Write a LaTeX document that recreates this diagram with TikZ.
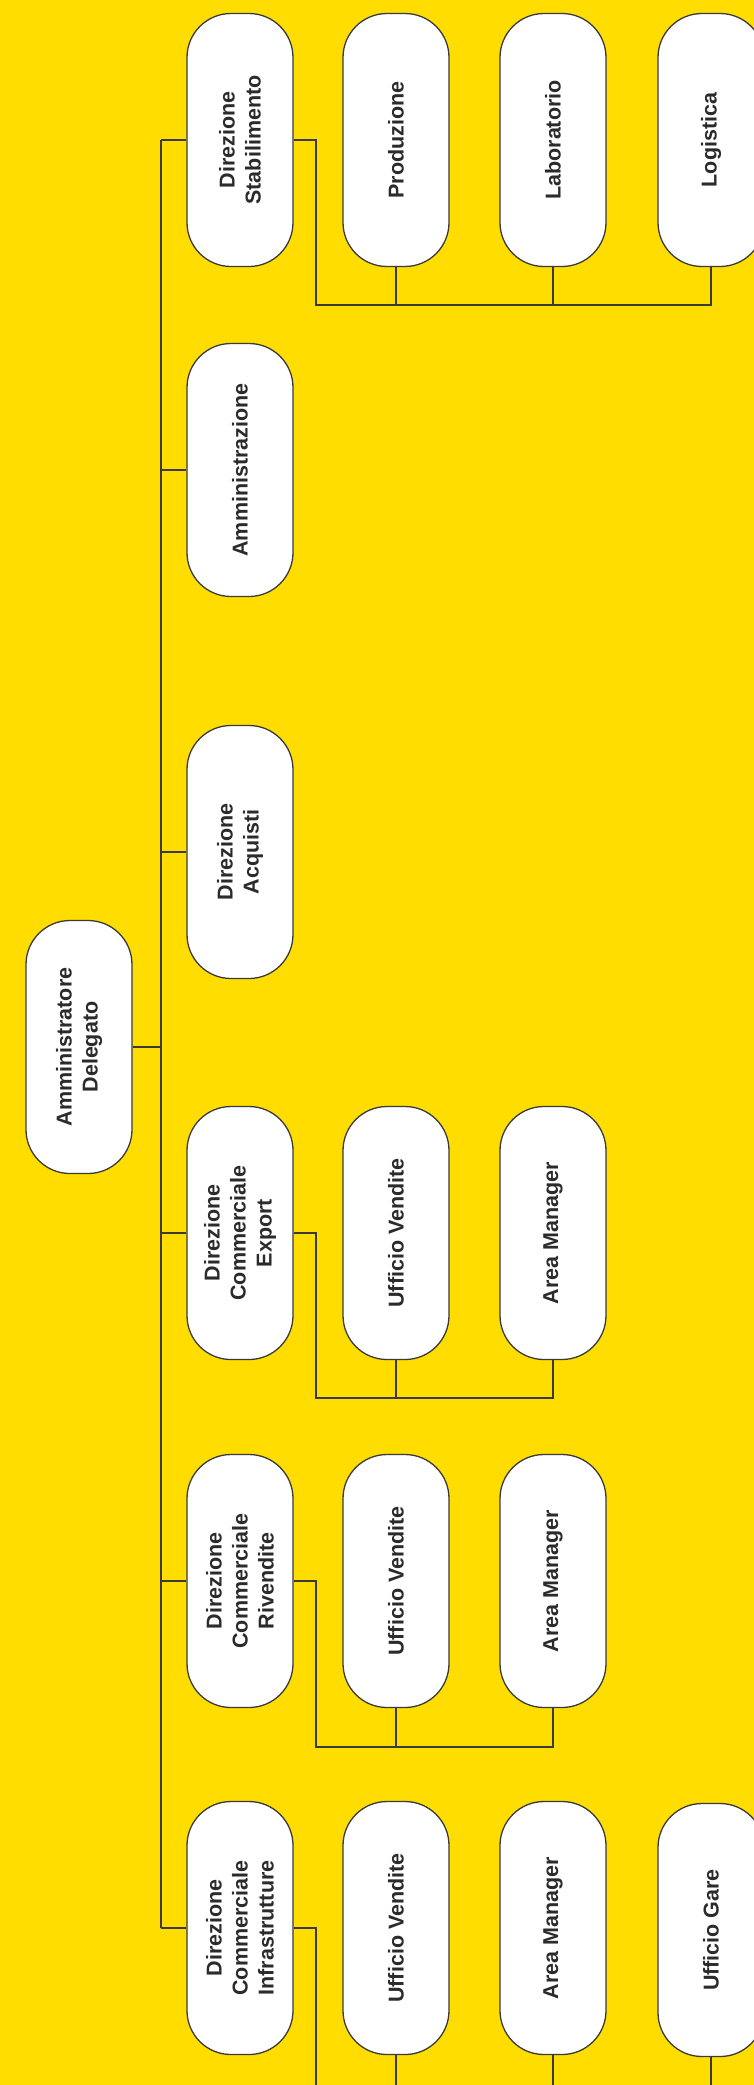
\documentclass[tikz,border=0pt]{standalone}
\usepackage{fontspec}
\setmainfont{Liberation Sans}
\definecolor{bg}{HTML}{FFDD00}
\definecolor{ln}{HTML}{3A3A3A}
\definecolor{txt}{HTML}{2B2B2B}
\tikzset{
  box/.style={draw=ln, line width=1.3pt, fill=white, rounded corners=44pt,
    minimum width=253pt, minimum height=106pt, rotate=90, align=center,
    inner sep=0pt, text=txt, font=\fontsize{21.5}{26}\selectfont\bfseries},
  link/.style={draw=ln, line width=1.3pt}
}
\begin{document}
\begin{tikzpicture}[x=1pt,y=-1pt]
\fill[bg] (0,0) rectangle (754,2085);
\useasboundingbox (0,0) rectangle (754,2085);

% root
\node[box] (ad) at (79,1047) {Amministratore\\Delegato};

% first level
\node[box] (ds)  at (240,140)  {Direzione\\Stabilimento};
\node[box] (amm) at (240,470)  {Amministrazione};
\node[box] (da)  at (240,852)  {Direzione\\Acquisti};
\node[box] (dce) at (240,1233) {Direzione\\Commerciale\\Export};
\node[box] (dcr) at (240,1581) {Direzione\\Commerciale\\Rivendite};
\node[box] (dci) at (240,1928) {Direzione\\Commerciale\\Infrastrutture};

% children of Direzione Stabilimento
\node[box] (prod) at (396,140) {Produzione};
\node[box] (lab)  at (553,140) {Laboratorio};
\node[box] (logi) at (711,140) {Logistica};

% children of Export
\node[box] (dceuv) at (396,1233) {Ufficio Vendite};
\node[box] (dceam) at (553,1233) {Area Manager};

% children of Rivendite
\node[box] (dcruv) at (396,1581) {Ufficio Vendite};
\node[box] (dcram) at (553,1581) {Area Manager};

% children of Infrastrutture
\node[box] (dciuv) at (396,1928) {Ufficio Vendite};
\node[box] (dciam) at (553,1928) {Area Manager};
\node[box] (dciug) at (711,1930) {Ufficio Gare};

% main bus
\coordinate (bt) at (161,140);
\coordinate (bb) at (161,1928);
\draw[link] (bt) -- (bb);
\draw[link] (ad.south) -- (ad.south -| bt);
\foreach \n in {ds,amm,da,dce,dcr,dci}{
  \draw[link] (\n.north) -- (\n.north -| bt);
}

% sub buses
\coordinate (sds) at (316,305);
\draw[link] (ds.south) -- (ds.south -| sds) -- (sds) -- (logi.west |- sds) -- (logi.west);
\draw[link] (prod.west) -- (prod.west |- sds);
\draw[link] (lab.west) -- (lab.west |- sds);

\coordinate (sdce) at (316,1398);
\draw[link] (dce.south) -- (dce.south -| sdce) -- (sdce) -- (dceam.west |- sdce) -- (dceam.west);
\draw[link] (dceuv.west) -- (dceuv.west |- sdce);

\coordinate (sdcr) at (316,1747);
\draw[link] (dcr.south) -- (dcr.south -| sdcr) -- (sdcr) -- (dcram.west |- sdcr) -- (dcram.west);
\draw[link] (dcruv.west) -- (dcruv.west |- sdcr);

\coordinate (sdci) at (316,2094);
\draw[link] (dci.south) -- (dci.south -| sdci) -- (sdci) -- (dciug.west |- sdci) -- (dciug.west);
\draw[link] (dciuv.west) -- (dciuv.west |- sdci);
\draw[link] (dciam.west) -- (dciam.west |- sdci);
\end{tikzpicture}
\end{document}
